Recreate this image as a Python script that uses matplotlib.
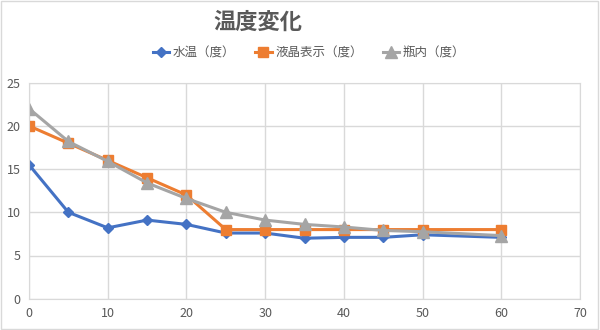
import matplotlib.pyplot as plt
from matplotlib.patches import Rectangle

plt.rcParams['font.family'] = ['Noto Sans CJK JP', 'DejaVu Sans']

# 時間（分）
minutes = [0, 5, 10, 15, 20, 25, 30, 35, 40, 45, 50, 60]
# 各系列の温度
water = [15.5, 10.0, 8.2, 9.1, 8.6, 7.6, 7.6, 7.0, 7.1, 7.1, 7.4, 7.1]
lcd = [20, 18, 16, 14, 12, 8, 8, 8, 8, 8, 8, 8]
bottle = [22, 18.2, 15.9, 13.4, 11.6, 10.0, 9.1, 8.6, 8.3, 7.9, 7.75, 7.3]
labels = ['水温（度）', '液晶表示（度）', '瓶内（度）']
colors = ['#4472C4', '#ED7D31', '#A5A5A5']
markers = ['D', 's', '^']
msizes = [5, 7, 8]

fig = plt.figure(figsize=(6, 3.3), dpi=100)
ax = fig.add_axes([29 / 600, 1 - 298.7 / 330, 551 / 600, 216 / 330])

for ys, lab, c, m, ms in zip([water, lcd, bottle], labels, colors, markers, msizes):
    ax.plot(minutes, ys, color=c, lw=2.2, marker=m, markersize=ms, label=lab)

ax.set_xlim(0, 70)
ax.set_ylim(0, 25)
ax.set_xticks(range(0, 71, 10))
ax.set_yticks(range(0, 26, 5))
ax.grid(True, color='#D9D9D9', lw=1)
ax.set_axisbelow(True)
for sp in ax.spines.values():
    sp.set_color('#D9D9D9')
ax.tick_params(length=0, labelsize=9, labelcolor='#595959', pad=6)

fig.text(258 / 600, 1 - 22 / 330, '温度変化', ha='center', va='center',
         fontsize=16, fontweight='bold', color='#595959')
fig.legend(loc='center', bbox_to_anchor=(309 / 600, 1 - 53 / 330), ncol=3,
           frameon=False, fontsize=9, labelcolor='#595959', handlelength=1.3,
           columnspacing=1.6, handletextpad=0.3)

fig.patches.append(Rectangle((0.002, 0.002), 0.994, 0.994, transform=fig.transFigure,
                             fill=False, edgecolor='#D9D9D9', lw=1))

fig.savefig('out.png', dpi=100)
